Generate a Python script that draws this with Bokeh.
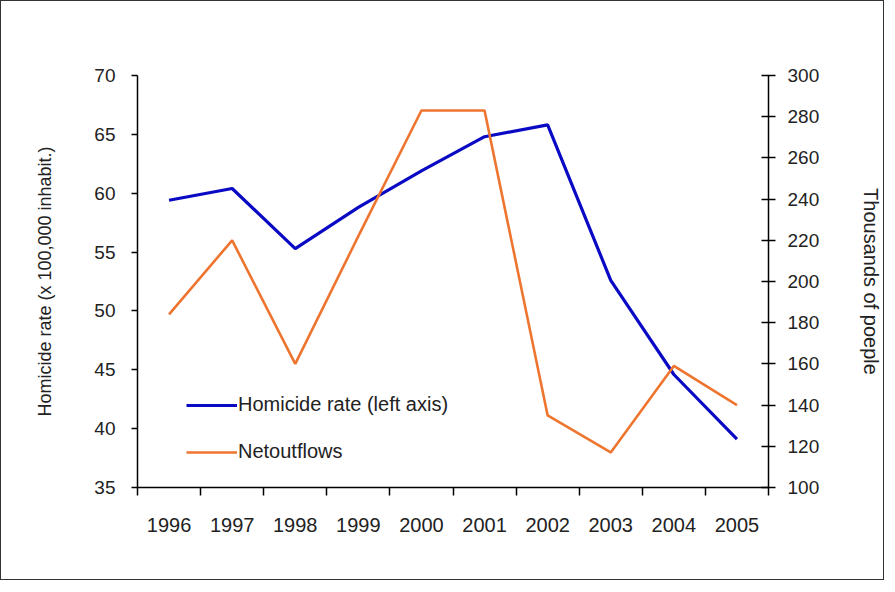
from bokeh.plotting import figure
from bokeh.models import Range1d, LinearAxis, FixedTicker, Legend, LegendItem
from bokeh.embed import file_html
from bokeh.resources import INLINE

years = ["1996", "1997", "1998", "1999", "2000", "2001", "2002", "2003", "2004", "2005"]
homicide_rate = [59.4, 60.4, 55.3, 58.8, 61.9, 64.8, 65.8, 52.6, 44.6, 39.1]
net_outflows = [184, 220, 160, 222, 283, 283, 135, 117, 159, 140]
left_ticks = [35, 40, 45, 50, 55, 60, 65, 70]
right_ticks = [100, 120, 140, 160, 180, 200, 220, 240, 260, 280, 300]

FONT = "Liberation Sans"
TXT = "#222222"

x_centers = [i + 0.5 for i in range(len(years))]
x_bounds = list(range(len(years) + 1))

p = figure(width=884, height=580, output_backend="svg", toolbar_location=None,
           x_range=Range1d(0, len(years)), y_range=Range1d(left_ticks[0], left_ticks[-1]),
           min_border_left=136, min_border_right=113, min_border_top=74, min_border_bottom=94)
p.styles = {"border": "1px solid #333333"}
p.outline_line_color = None
p.grid.visible = False
p.background_fill_color = "white"
p.border_fill_color = "white"

p.extra_y_ranges = {"right": Range1d(right_ticks[0], right_ticks[-1])}

# bottom axis
xa = p.xaxis[0]
xa.ticker = FixedTicker(ticks=x_centers, minor_ticks=x_bounds)
xa.major_label_overrides = {c: y for c, y in zip(x_centers, years)}
xa.major_tick_in = 0
xa.major_tick_out = 0
xa.minor_tick_in = 0
xa.minor_tick_out = 8
xa.minor_tick_line_color = "black"
xa.minor_tick_line_width = 1.5
xa.axis_line_width = 1.5
xa.major_label_standoff = 22
xa.major_label_text_font = FONT
xa.major_label_text_font_size = "20px"
xa.major_label_text_color = TXT

# left axis
ya = p.yaxis[0]
ya.ticker = FixedTicker(ticks=left_ticks)
ya.minor_tick_line_color = None
ya.major_tick_in = 0
ya.major_tick_out = 6
ya.major_tick_line_width = 1.5
ya.axis_line_width = 1.5
ya.major_label_standoff = 16
ya.major_label_text_font = FONT
ya.major_label_text_font_size = "19px"
ya.major_label_text_color = TXT
ya.axis_label = "Homicide rate (x 100,000 inhabit.)"
ya.axis_label_text_font = FONT
ya.axis_label_text_font_size = "18px"
ya.axis_label_text_font_style = "normal"
ya.axis_label_text_color = TXT
ya.axis_label_standoff = 36

# right axis
ra = LinearAxis(y_range_name="right", ticker=FixedTicker(ticks=right_ticks))
ra.minor_tick_line_color = None
ra.major_tick_in = 7
ra.major_tick_out = 7
ra.major_tick_line_width = 1.5
ra.axis_line_width = 1.5
ra.major_label_standoff = 12
ra.major_label_text_font = FONT
ra.major_label_text_font_size = "19px"
ra.major_label_text_color = TXT
ra.axis_label = "Thousands of poeple"
ra.axis_label_text_font = FONT
ra.axis_label_text_font_size = "20px"
ra.axis_label_text_font_style = "normal"
ra.axis_label_text_color = TXT
ra.axis_label_standoff = 38
p.add_layout(ra, "right")

r1 = p.line(x_centers, homicide_rate, line_color="#0A0AC4", line_width=3.2)
r2 = p.line(x_centers, net_outflows, y_range_name="right", line_color="#EE7530", line_width=2.6)

legend = Legend(items=[LegendItem(label="Homicide rate (left axis)", renderers=[r1]),
                       LegendItem(label="Netoutflows", renderers=[r2])],
                location=(49, 24), orientation="vertical")
legend.background_fill_alpha = 0
legend.border_line_color = None
legend.padding = 0
legend.margin = 0
legend.glyph_width = 51
legend.glyph_height = 20
legend.label_height = 20
legend.spacing = 24
legend.label_standoff = 1
legend.label_text_font = FONT
legend.label_text_font_size = "20px"
legend.label_text_color = TXT
p.add_layout(legend, "center")

open("out.html", "w").write(file_html(p, INLINE))
